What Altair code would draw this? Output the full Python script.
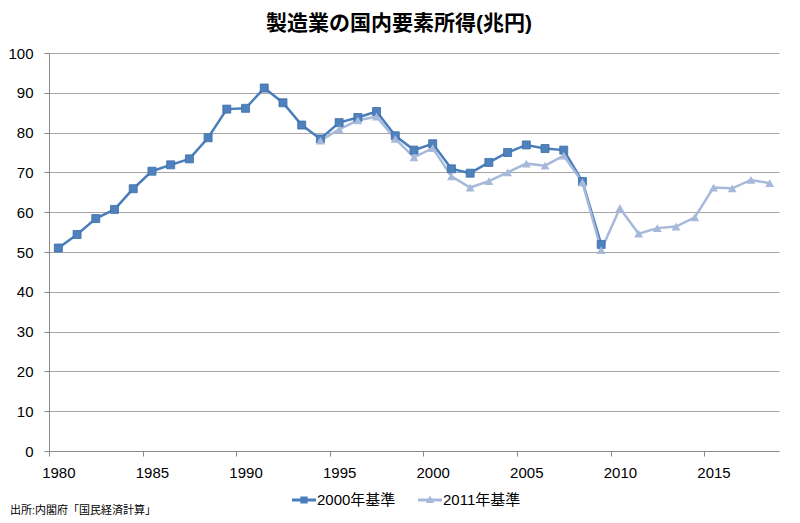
import altair as alt
import pandas as pd

# ---- data ----
series_names = ["2000年基準", "2011年基準"]
series_colors = ["#4A7EBB", "#A7B9DB"]

years_2000 = list(range(1980, 2010))
values_2000 = [51.0, 54.4, 58.4, 60.7, 65.9, 70.3, 71.9, 73.4, 78.7, 85.9,
               86.1, 91.2, 87.5, 81.9, 78.4, 82.5, 83.8, 85.3, 79.2, 75.6,
               77.2, 70.9, 69.8, 72.5, 75.0, 76.9, 76.0, 75.6, 67.7, 51.9]

years_2011 = list(range(1994, 2019))
values_2011 = [78.0, 80.8, 83.1, 84.0, 78.4, 73.8, 76.1, 69.0, 66.2, 67.8,
               70.0, 72.2, 71.7, 74.2, 67.5, 50.5, 61.0, 54.6, 56.0, 56.4,
               58.7, 66.2, 66.0, 68.1, 67.3]

x_tick_values = [1979.5, 1984.5, 1989.5, 1994.5, 1999.5, 2004.5, 2009.5, 2014.5]
y_tick_values = [0, 10, 20, 30, 40, 50, 60, 70, 80, 90, 100]

title_text = "製造業の国内要素所得(兆円)"
source_text = ["出所:内閣府「国民経済計算」"]

df = pd.concat([
    pd.DataFrame({"year": years_2000, "value": values_2000, "series": series_names[0]}),
    pd.DataFrame({"year": years_2011, "value": values_2011, "series": series_names[1]}),
], ignore_index=True)

FONT = "Liberation Sans, Noto Sans CJK JP, sans-serif"
PLOT_W, PLOT_H = 730, 398
half_band = PLOT_W / 39 / 2

x_enc = alt.X(
    "year:Q",
    scale=alt.Scale(domain=[1979.5, 2018.5], nice=False, zero=False),
    axis=alt.Axis(
        values=x_tick_values,
        labelExpr="format(datum.value + 0.5, 'd')",
        labelOffset=half_band, labelFlush=False, labelAlign="center",
        grid=False, title=None, tickSize=5, tickColor="#898989",
        domainColor="#898989", labelFontSize=15, labelColor="#000000",
        labelFont=FONT, labelPadding=9,
    ),
)
y_enc = alt.Y(
    "value:Q",
    scale=alt.Scale(domain=[0, 100], nice=False),
    axis=alt.Axis(
        values=y_tick_values, grid=True, gridColor="#A6A6A6", gridWidth=1,
        title=None, tickSize=5, tickColor="#898989", domainColor="#898989",
        labelFontSize=15, labelColor="#000000", labelFont=FONT, labelPadding=11,
        labelFlush=False,
    ),
)

base = alt.Chart(df).encode(x=x_enc, y=y_enc)

s1 = base.transform_filter(alt.datum.series == series_names[0])
s2 = base.transform_filter(alt.datum.series == series_names[1])

line1 = s1.mark_line(color=series_colors[0], strokeWidth=2.5)
pts1 = s1.mark_point(shape="square", filled=True, size=64, color="#4F81BD",
                     stroke="#3C6EA8", strokeWidth=0.8, opacity=1)
line2 = s2.mark_line(color=series_colors[1], strokeWidth=2.5)
pts2 = s2.mark_point(shape="triangle-up", filled=True, size=80, color=series_colors[1],
                     opacity=1)

legend_paths = [
    "M-1,-0.12H1V0.12H-1Z M-0.3,-0.3H0.3V0.3H-0.3Z",
    "M-1,-0.12H1V0.12H-1Z M0,-0.38L0.34,0.26H-0.34Z",
]
leg = alt.Legend(
    orient="none", legendX=243, legendY=435, direction="horizontal", title=None,
    symbolSize=576, symbolStrokeWidth=0, labelFontSize=15, labelFont=FONT,
    labelColor="#000000", labelOffset=1, columnPadding=22,
)
legend_layer = alt.Chart(df).transform_filter("false").mark_point(filled=True, opacity=1).encode(
    color=alt.Color("series:N", scale=alt.Scale(domain=series_names, range=series_colors), legend=leg),
    shape=alt.Shape("series:N", scale=alt.Scale(domain=series_names, range=legend_paths), legend=leg),
)

source_layer = alt.Chart(pd.DataFrame({"t": source_text})).mark_text(
    align="left", baseline="middle", fontSize=11, font=FONT, color="#000000"
).encode(x=alt.value(-39), y=alt.value(458), text="t:N")

chart = alt.layer(line1, line2, pts1, pts2, legend_layer, source_layer).properties(
    width=PLOT_W, height=PLOT_H,
    title=alt.TitleParams(title_text, fontSize=21, fontWeight="bold", font=FONT,
                          color="#000000", anchor="middle", dx=-15, offset=12),
    autosize=alt.AutoSizeParams(type="none"),
    padding={"left": 41, "top": 45, "right": 13, "bottom": 65},
    background="#FFFFFF",
).configure_view(stroke=None)

chart.save("out.html", embed_options={"renderer": "svg", "actions": False})
